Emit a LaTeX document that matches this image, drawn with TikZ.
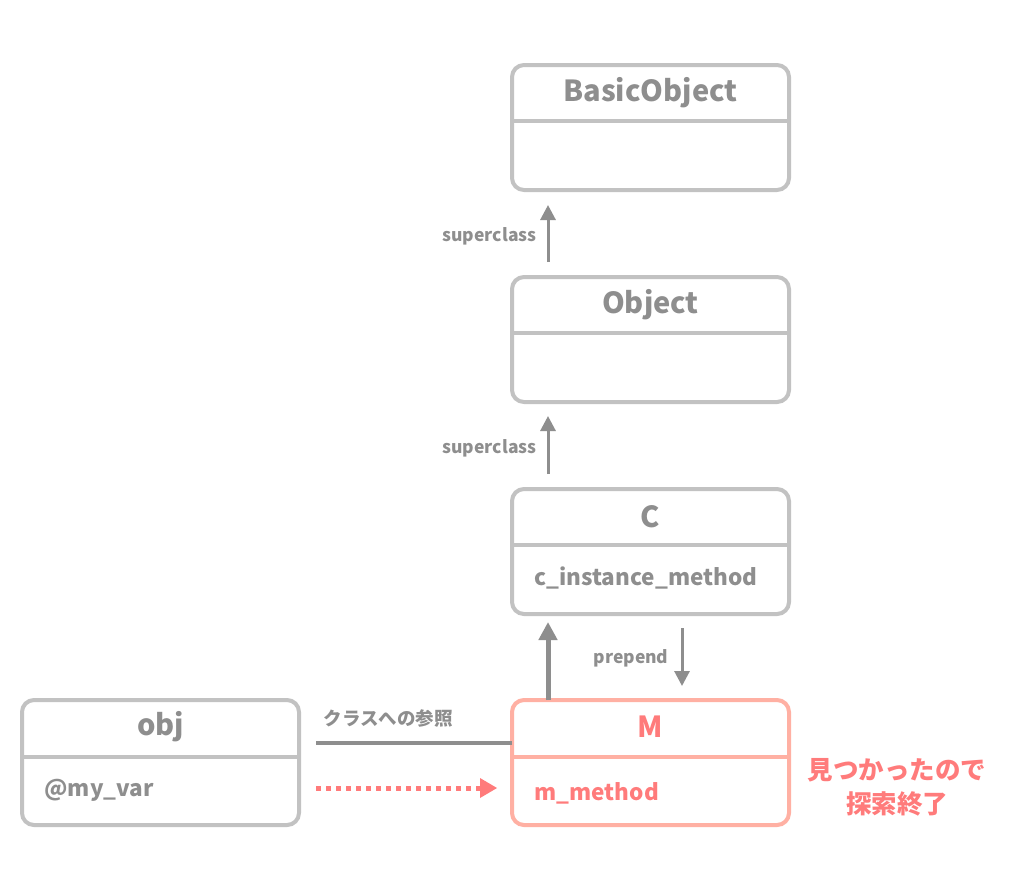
\documentclass[tikz,border=0pt]{standalone}
\usepackage{fontspec}
\setmainfont{Noto Sans CJK JP}
\usetikzlibrary{arrows.meta}
\definecolor{boxgray}{HTML}{C2C2C2}
\definecolor{txtgray}{HTML}{8E8E8E}
\definecolor{arrgray}{HTML}{8E8E8E}
\definecolor{salmonbox}{HTML}{FFB0A3}
\definecolor{salmontxt}{HTML}{FF7B7B}
\tikzset{
  classbox/.style={draw=boxgray, line width=4pt, rounded corners=12pt, minimum width=277pt, minimum height=125pt, anchor=north west, inner sep=0pt, outer sep=0pt},
  hotbox/.style={classbox, draw=salmonbox},
  titletxt/.style={font=\bfseries\fontsize{29}{32}\selectfont, text=txtgray},
  bodytxt/.style={font=\bfseries\fontsize{22.5}{26}\selectfont, text=txtgray, anchor=west},
  lbl/.style={font=\bfseries\fontsize{17.5}{20}\selectfont, text=txtgray},
  jlbl/.style={font=\bfseries\fontsize{18.5}{21}\selectfont, text=txtgray},
  supar/.style={draw=arrgray, line width=3pt, -{Triangle[length=15pt,width=15pt]}},
  bigar/.style={draw=arrgray, line width=5pt, -{Triangle[length=18pt,width=18pt]}},
}
\begin{document}
\begin{tikzpicture}[x=1pt,y=-1pt]
\useasboundingbox[fill=white] (0,0) rectangle (1024,871);
% BasicObject
\node[classbox] (bo) at (512,65) {};
\draw[boxgray, line width=4pt] (512,121) -- (789,121);
\node[titletxt] (bot) at (650.5,93) {BasicObject};
% Object
\node[classbox] (ob) at (512,277) {};
\draw[boxgray, line width=4pt] (512,333) -- (789,333);
\node[titletxt] (obt) at (650.5,305) {Object};
% C
\node[classbox] (c) at (512,489) {};
\draw[boxgray, line width=4pt] (512,545) -- (789,545);
\node[titletxt] (ct) at (650.5,517) {C};
\node[bodytxt] (cm) at (531,578) {c\_instance\_method};
% M
\node[hotbox] (m) at (512,700) {};
\draw[salmonbox, line width=4pt] (512,757) -- (789,757);
\node[titletxt, text=salmontxt] (mt) at (650.5,727) {M};
\node[bodytxt, text=salmontxt] (mm) at (531,793) {m\_method};
% obj
\node[classbox] (o) at (22,700) {};
\draw[boxgray, line width=4pt] (22,757) -- (299,757);
\node[titletxt] (ot) at (160.5,727) {obj};
\node[bodytxt] (ov) at (41,790) {@my\_var};
% superclass arrows
\coordinate (s1a) at (548,262);
\coordinate (s1b) at (548,205);
\draw[supar] (s1a) -- (s1b);
\node[lbl, anchor=east] (s1l) at (540,236) {superclass};
\coordinate (s2a) at (548,474);
\coordinate (s2b) at (548,416);
\draw[supar] (s2a) -- (s2b);
\node[lbl, anchor=east] (s2l) at (540,448) {superclass};
% M -> C
\coordinate (mc) at (548,700);
\coordinate (ct2) at (548,622);
\draw[bigar] (mc) -- (ct2);
% prepend
\coordinate (p1) at (682,628);
\coordinate (p2) at (682,686);
\draw[supar] (p1) -- (p2);
\node[lbl, anchor=east] (pl) at (672,658) {prepend};
% class reference line
\coordinate (r1) at (316,743);
\draw[arrgray, line width=4pt] (r1) -- (r1 -| m.west);
\node[jlbl, anchor=west] (rl) at (320,718) {クラスへの参照};
% dotted search arrow
\coordinate (d1) at (316,788);
\coordinate (d2) at (497,788);
\draw[salmontxt, line width=5pt, dash pattern=on 5pt off 5pt, -{Triangle[length=17pt,width=20pt,line width=0pt]}] (d1) -- (d2);
% found text
\node[font=\bfseries\fontsize{25.5}{34}\selectfont, text=salmontxt, align=center] (found) at (897,787) {見つかったので\\探索終了};
\end{tikzpicture}
\end{document}
